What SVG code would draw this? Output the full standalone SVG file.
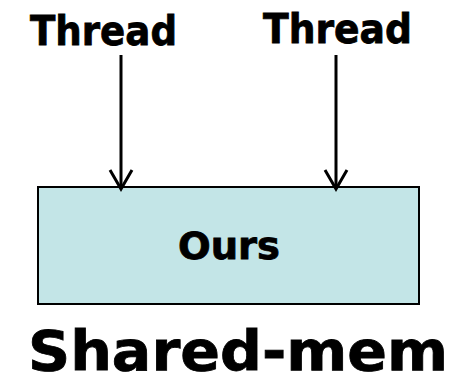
<svg xmlns="http://www.w3.org/2000/svg" width="470" height="382" viewBox="0 0 470 382">
<style>
text{font-family:"DejaVu Sans",Verdana,sans-serif;font-weight:bold;fill:#000;stroke:#000;stroke-width:0.8}
.c{stroke:#000;stroke-width:3;fill:none}
</style>
<rect width="470" height="382" fill="#fff"/>
<g id="thread1"><text x="30" y="45" font-size="41" textLength="147" lengthAdjust="spacingAndGlyphs">Thread</text></g>
<g id="thread2"><text x="263" y="43" font-size="41" textLength="149" lengthAdjust="spacingAndGlyphs">Thread</text></g>
<g id="ours">
<rect x="38" y="187" width="381" height="117" fill="#C3E5E7" stroke="#000" stroke-width="2"/>
<text x="178" y="259" font-size="37" textLength="102" lengthAdjust="spacingAndGlyphs">Ours</text>
</g>
<g id="shared"><text x="28" y="370" font-size="56" textLength="420" lengthAdjust="spacingAndGlyphs">Shared-mem</text></g>
<g id="connectors">
<path class="c" d="M121,55 V188"/>
<path class="c" d="M110,170 L121,189 L132,170"/>
<path class="c" d="M336,55 V188"/>
<path class="c" d="M325,170 L336,189 L347,170"/>
</g>
</svg>
